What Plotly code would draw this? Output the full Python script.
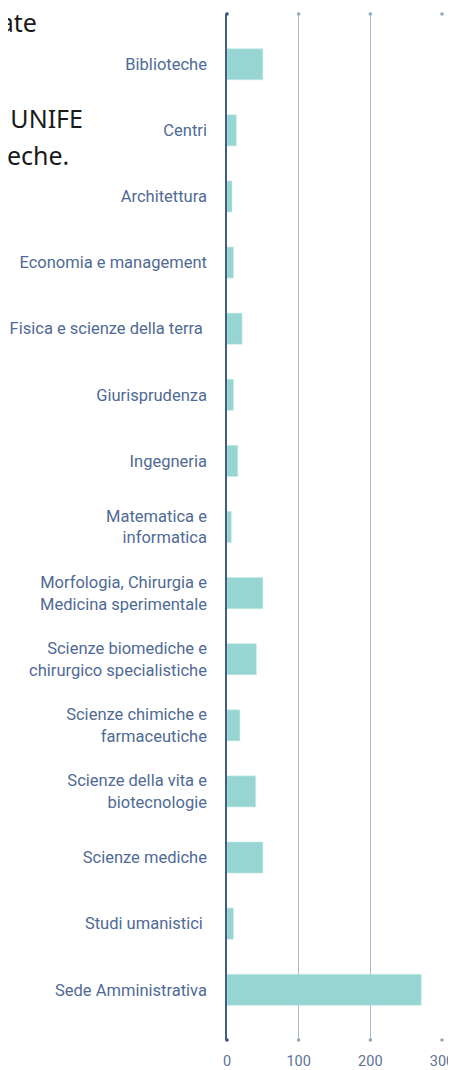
import plotly.graph_objects as go

# data
categories = [
    "Biblioteche",
    "Centri",
    "Architettura",
    "Economia e management",
    "Fisica e scienze della terra\u00a0",
    "Giurisprudenza",
    "Ingegneria",
    "Matematica e<br>informatica",
    "Morfologia, Chirurgia e<br>Medicina sperimentale",
    "Scienze biomediche e<br>chirurgico specialistiche",
    "Scienze chimiche e<br>farmaceutiche",
    "Scienze della vita e<br>biotecnologie",
    "Scienze mediche",
    "Studi umanistici\u00a0",
    "Sede Amministrativa",
]
values = [50, 13, 7, 9, 21, 9, 15, 6, 50, 41, 18, 40, 50, 9, 271]
x_ticks = [0, 100, 200, 300]

# page text that runs in from the left (mostly off-screen)
side_lines = [
    "Postazioni informatiche assegnate",
    "Distribuzione delle postazioni nelle sedi UNIFE",
    "e nelle biblioteche.",
]

# the page body adds an 8px margin, positions below are in figure pixels
W, H = 456, 1062
L, R, T, B = 219, 22, 6, 30
pw, ph = W - L - R, H - T - B


def px_x(p):
    return (p - L) / pw


def px_y(p):
    return 1 - (p - T) / ph


fig = go.Figure()

fig.add_trace(
    go.Bar(
        x=values,
        y=categories,
        orientation="h",
        marker=dict(color="#96d5d1", line=dict(color="#c6ebe8", width=0.6)),
        width=0.47,
        hoverinfo="x+y",
    )
)

# dots at the ends of the gridlines
dot_x, dot_y = [], []
for t in x_ticks:
    dot_x += [t, t]
    dot_y += [0, 1]
fig.add_trace(
    go.Scatter(
        x=dot_x,
        y=dot_y,
        yaxis="y2",
        mode="markers",
        marker=dict(
            size=3.5,
            color=["#2d4a78" if t == 0 else "#8fa6bc" for t in x_ticks for _ in (0, 1)],
        ),
        cliponaxis=False,
        hoverinfo="skip",
    )
)

for txt, xr, yc in zip(side_lines, [31, 77, 63], [14, 110, 147]):
    fig.add_annotation(
        text=txt,
        xref="paper",
        yref="paper",
        x=px_x(xr),
        y=px_y(yc),
        xanchor="right",
        yanchor="middle",
        showarrow=False,
        font=dict(family="Noto Sans", size=25, color="#1a1a1a"),
    )

n = len(categories)
fig.update_layout(
    width=W,
    height=H,
    margin=dict(l=L, r=R, t=T, b=B, autoexpand=False),
    plot_bgcolor="white",
    paper_bgcolor="white",
    showlegend=False,
    bargap=0.5,
    xaxis=dict(
        range=[0, 300],
        tickvals=x_ticks,
        automargin=False,
        showgrid=True,
        gridcolor="#a7b9ca",
        gridwidth=1,
        zeroline=False,
        showline=False,
        ticks="outside",
        ticklen=8,
        tickcolor="rgba(0,0,0,0)",
        ticklabeloverflow="allow",
        tickfont=dict(family="Roboto", size=14.5, color="#5b7398"),
    ),
    yaxis=dict(
        type="category",
        categoryarray=categories,
        range=[n - 1 + 0.76, -0.76],
        automargin=False,
        showgrid=False,
        zeroline=False,
        showline=True,
        linecolor="#3f5d88",
        linewidth=1.5,
        ticks="outside",
        ticklen=15,
        tickcolor="rgba(0,0,0,0)",
        tickfont=dict(family="Roboto", size=16.5, color="#4f6a96"),
    ),
    yaxis2=dict(
        overlaying="y",
        range=[0, 1],
        visible=False,
        fixedrange=True,
    ),
)

fig.write_html("out.html")
